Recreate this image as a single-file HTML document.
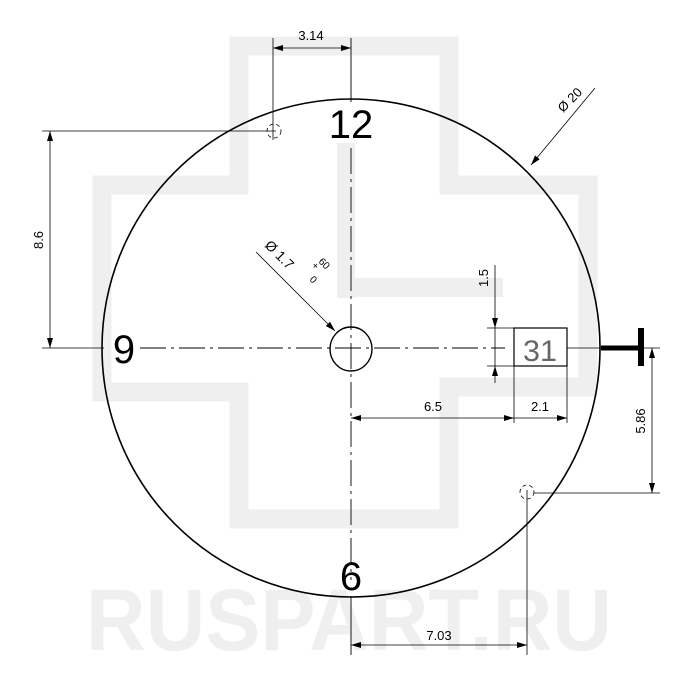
<!DOCTYPE html>
<html><head><meta charset="utf-8"><style>
html,body{margin:0;padding:0;background:#fff;}
svg{display:block;font-family:"Liberation Sans",sans-serif;}
</style></head><body>
<svg width="700" height="700" viewBox="0 0 700 700" xmlns="http://www.w3.org/2000/svg">
<defs>
<marker id="a" viewBox="0 0 10 10" refX="10" refY="5" markerWidth="10" markerHeight="10" markerUnits="userSpaceOnUse" orient="auto-start-reverse"><path d="M0,2 L10,5 L0,8 z" fill="#000"/></marker>
</defs>
<g fill="none" stroke="#efefef" stroke-width="19">
<path d="M239,46 L449,46 L449,185 L588,185 L588,387 L449,387 L449,519 L239,519 L239,392 L102,392 L102,185 L239,185 Z"/>
</g>
<g fill="#efefef">
<rect x="337" y="143" width="18" height="155"/>
<rect x="337" y="278" width="166" height="19"/>
</g>
<text x="86" y="650" font-size="87" font-weight="bold" fill="#efefef" textLength="526" lengthAdjust="spacingAndGlyphs">RUSPART.RU</text>

<circle cx="351" cy="348" r="249" fill="none" stroke="#000" stroke-width="1.6"/>
<ellipse cx="351" cy="349" rx="21" ry="22" fill="none" stroke="#000" stroke-width="1.4"/>
<g stroke="#000" stroke-width="0.9" fill="none">
<line x1="140" y1="348" x2="505" y2="348" stroke-dasharray="26,5,3,5"/>
<line x1="351" y1="148" x2="351" y2="580" stroke-dasharray="26,5,3,5"/>
<line x1="351" y1="38" x2="351" y2="102"/>
<line x1="351" y1="596" x2="351" y2="655"/>
</g>
<g fill="none" stroke="#000" stroke-width="0.8">
<circle cx="274" cy="131" r="7" stroke-dasharray="4,3"/>
<circle cx="527" cy="492" r="7" stroke-dasharray="4,3"/>
</g>
<g stroke="#000" stroke-width="0.8" fill="none">
<line x1="273" y1="38" x2="273" y2="140"/>
<line x1="273" y1="48" x2="351" y2="48" marker-start="url(#a)" marker-end="url(#a)"/>
<line x1="42" y1="131" x2="276" y2="131"/>
<line x1="42" y1="348" x2="104" y2="348"/>
<line x1="50" y1="131" x2="50" y2="348" marker-start="url(#a)" marker-end="url(#a)"/>
<line x1="595" y1="88" x2="531" y2="165" marker-end="url(#a)"/>
<line x1="256" y1="252" x2="335" y2="331" marker-end="url(#a)"/>
<line x1="487" y1="328" x2="514" y2="328"/>
<line x1="487" y1="366" x2="514" y2="366"/>
<line x1="495" y1="265" x2="495" y2="328" marker-end="url(#a)"/>
<line x1="495" y1="366" x2="495" y2="383" marker-start="url(#a)"/>
<line x1="495" y1="328" x2="495" y2="366"/>
<line x1="514" y1="366" x2="514" y2="423"/>
<line x1="567" y1="366" x2="567" y2="423"/>
<line x1="351" y1="418" x2="514" y2="418" marker-start="url(#a)" marker-end="url(#a)"/>
<line x1="514" y1="418" x2="567" y2="418" marker-end="url(#a)"/>
<line x1="640" y1="348" x2="660" y2="348"/>
<line x1="534" y1="493" x2="660" y2="493"/>
<line x1="652" y1="348" x2="652" y2="493" marker-start="url(#a)" marker-end="url(#a)"/>
<line x1="527" y1="490" x2="527" y2="655"/>
<line x1="351" y1="645" x2="527" y2="645" marker-start="url(#a)" marker-end="url(#a)"/>
<line x1="567" y1="348" x2="602" y2="348"/>
</g>
<rect x="514" y="328" width="53" height="38" fill="none" stroke="#000" stroke-width="1.2"/>
<text x="540" y="361" font-size="30" fill="#666" text-anchor="middle" textLength="34" lengthAdjust="spacingAndGlyphs">31</text>
<line x1="601" y1="348" x2="640" y2="348" stroke="#000" stroke-width="5"/>
<line x1="641" y1="328" x2="641" y2="366" stroke="#000" stroke-width="6"/>

<g fill="#000">
<text x="351" y="138" font-size="40" text-anchor="middle">12</text>
<text x="124" y="363" font-size="40" text-anchor="middle">9</text>
<text x="351" y="590" font-size="40" text-anchor="middle">6</text>
<text x="311" y="40" font-size="13" text-anchor="middle">3.14</text>
<text x="433" y="411" font-size="13" text-anchor="middle">6.5</text>
<text x="540" y="411" font-size="13" text-anchor="middle">2.1</text>
<text x="439" y="640" font-size="13" text-anchor="middle">7.03</text>
<text transform="translate(43,240) rotate(-90)" font-size="13" text-anchor="middle">8.6</text>
<text transform="translate(488,278) rotate(-90)" font-size="13" text-anchor="middle">1.5</text>
<text transform="translate(645,421) rotate(-90)" font-size="13" text-anchor="middle">5.86</text>
<text transform="translate(573,103) rotate(-45)" font-size="13" text-anchor="middle">Ø 20</text>
<text transform="translate(264,246) rotate(45)" font-size="14">Ø 1.7</text>
<text transform="translate(311,266) rotate(45)" font-size="10">+</text>
<text transform="translate(318,262) rotate(45)" font-size="10">60</text>
<text transform="translate(309,280) rotate(45)" font-size="10">0</text>
</g>
</svg>
</body></html>
